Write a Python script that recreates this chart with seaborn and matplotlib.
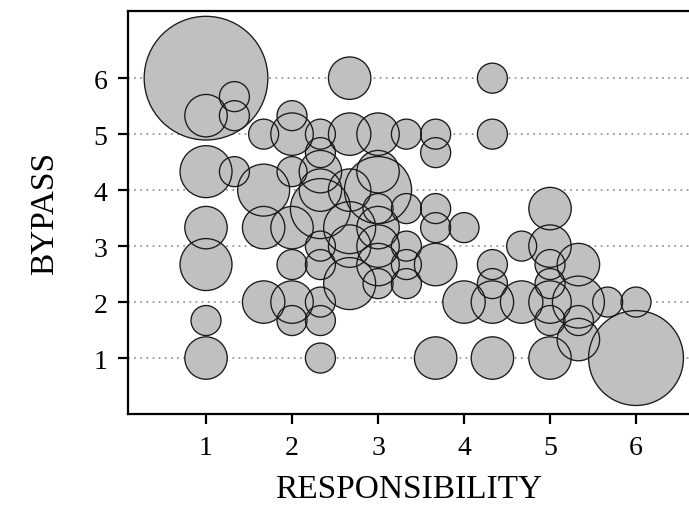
import matplotlib.pyplot as plt
import pandas as pd
import seaborn as sns

# responsibility / bypass scores (means of three items) and number of cases at each point
resp = [1, 1, 1, 1, 1, 1, 1,
        1.33, 1.33, 1.33,
        1.67, 1.67, 1.67, 1.67,
        2, 2, 2, 2, 2, 2, 2,
        2.33, 2.33, 2.33, 2.33, 2.33, 2.33, 2.33, 2.33, 2.33, 2.33,
        2.67, 2.67, 2.67, 2.67, 2.67, 2.67,
        3, 3, 3, 3, 3, 3, 3, 3,
        3.33, 3.33, 3.33, 3.33, 3.33,
        3.67, 3.67, 3.67, 3.67, 3.67, 3.67,
        4, 4,
        4.33, 4.33, 4.33, 4.33, 4.33, 4.33,
        4.67, 4.67,
        5, 5, 5, 5, 5, 5, 5,
        5.33, 5.33, 5.33, 5.33,
        5.67,
        6, 6]
bypass = [6, 5.33, 4.33, 3.33, 2.67, 1.67, 1,
          5.67, 5.33, 4.33,
          5, 4, 3.33, 2,
          5.33, 5, 4.33, 3.33, 2.67, 2, 1.67,
          5, 4.67, 4.33, 4, 3.67, 3, 2.67, 2, 1.67, 1,
          6, 5, 4, 3.33, 3, 2.33,
          5, 4.33, 4, 3.67, 3.33, 3, 2.67, 2.33,
          5, 3.67, 3, 2.67, 2.33,
          5, 4.67, 3.67, 3.33, 2.67, 1,
          3.33, 2,
          6, 5, 2.67, 2.33, 2, 1,
          3, 2,
          3.67, 3, 2.67, 2.33, 2, 1.67, 1,
          2.67, 2, 1.67, 1.33,
          2,
          2, 1]
count = [17, 2, 3, 2, 3, 1, 2,
         1, 1, 1,
         1, 3, 2, 2,
         1, 2, 1, 2, 1, 2, 1,
         1, 1, 2, 2, 4, 1, 1, 1, 1, 1,
         2, 2, 2, 3, 2, 3,
         2, 2, 5, 1, 2, 2, 2, 1,
         1, 1, 1, 1, 1,
         1, 1, 1, 1, 2, 2,
         1, 2,
         1, 1, 1, 1, 2, 2,
         1, 2,
         2, 2, 1, 1, 2, 1, 2,
         2, 3, 1, 2,
         1,
         1, 10]

df = pd.DataFrame({"RESPONSIBILITY": resp, "BYPASS": bypass, "n": count})

sns.set_style("ticks")
plt.rcParams['font.family'] = ['Liberation Serif', 'DejaVu Serif']

fig = plt.figure(figsize=(6.89, 5.06), dpi=100)
ax = fig.add_axes([0.1858, 0.1798, 0.8142, 0.7965])

unit = 466.6  # marker area (pt^2) for a single case
# fills first, then all outlines on top so every circle edge stays visible
sns.scatterplot(data=df, x="RESPONSIBILITY", y="BYPASS", size="n",
                sizes=(unit, unit * 17), size_norm=(1, 17),
                color="#c0c0c0", edgecolor="none", legend=False, ax=ax, zorder=2)
sns.scatterplot(data=df, x="RESPONSIBILITY", y="BYPASS", size="n",
                sizes=(unit, unit * 17), size_norm=(1, 17),
                color="#c0c0c0", edgecolor="#1a1a1a", linewidth=0.95,
                legend=False, ax=ax, zorder=3)
ax.collections[-1].set_facecolor("none")

ax.set_xlim(0.093, 6.616)
ax.set_ylim(0, 7.2)
ax.set_xticks([1, 2, 3, 4, 5, 6])
ax.set_yticks([1, 2, 3, 4, 5, 6])
for yv in [1, 2, 3, 4, 5, 6]:
    ax.axhline(yv, color="#999999", linestyle=(0, (1, 2.4)), linewidth=1.3, zorder=1)

for s in ["left", "bottom", "top"]:
    ax.spines[s].set_linewidth(1.6)
    ax.spines[s].set_color("black")
ax.spines["right"].set_visible(False)
ax.tick_params(axis="both", length=7, width=1.6, labelsize=20, pad=8, colors="black")

ax.set_xlabel("RESPONSIBILITY", fontsize=24, labelpad=10, color="black")
ax.set_ylabel("BYPASS", fontsize=24, labelpad=24, color="black")

plt.savefig("out.png", dpi=100)
